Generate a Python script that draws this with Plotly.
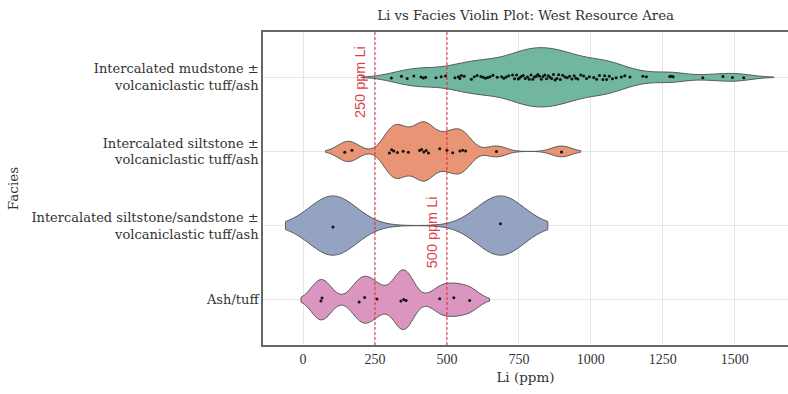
import numpy as np
import plotly.graph_objects as go

categories = [
    "Intercalated mudstone ±<br>volcaniclastic tuff/ash",
    "Intercalated siltstone ±<br>volcaniclastic tuff/ash",
    "Intercalated siltstone/sandstone ±<br>volcaniclastic tuff/ash",
    "Ash/tuff",
]

mudstone = [307, 342, 362, 385, 410, 418, 426, 462, 480, 495, 528, 540, 545,
            550, 560, 585, 595, 605, 618, 626, 634, 642, 650, 660, 675, 690, 698,
            706, 715, 728, 735, 742, 748, 752, 758, 765, 772, 780, 786, 792, 798,
            804, 810, 816, 822, 828, 834, 840, 846, 852, 858, 864, 870, 876, 882,
            888, 894, 902, 910, 918, 926, 934, 942, 948, 955, 965, 975, 985, 995,
            1010, 1020, 1030, 1042, 1048, 1055, 1064, 1075, 1088, 1106, 1118, 1136,
            1181, 1193, 1274, 1280, 1286, 1389, 1459, 1492, 1531]
siltstone = [145, 170, 300, 308, 315, 328, 348, 366, 405, 412, 420, 428, 436, 475,
             500, 520, 545, 555, 565, 672, 898]
sandstone = [104, 686]
ash_tuff = [62, 66, 195, 214, 257, 340, 350, 358, 475, 524, 579]

series = [mudstone, siltstone, sandstone, ash_tuff]
colors = ["#71b6a1", "#e99575", "#95a3c3", "#db96c0"]

thresholds = [250, 500]
threshold_labels = ["250 ppm Li", "500 ppm Li"]
label_ypos = [0.84, 0.36]

x_ticks = [0, 250, 500, 750, 1000, 1250, 1500]

serif = "DejaVu Serif"
text_color = "#333333"

fig = go.Figure()
for cat, vals, col in zip(categories, series, colors):
    bw = 0.2 * float(np.std(vals, ddof=1))
    fig.add_trace(go.Violin(
        x=vals, y=[cat] * len(vals), name=cat, orientation="h",
        fillcolor=col, line=dict(color="#5a5a5a", width=1), opacity=1,
        bandwidth=bw, spanmode="soft", scalemode="width", width=0.8,
        points="all", pointpos=0, jitter=0.1,
        marker=dict(color="#111111", size=3, line=dict(width=0)),
        box_visible=False, meanline_visible=False, showlegend=False,
        hoveron="points",
    ))

for t, lab, yp in zip(thresholds, threshold_labels, label_ypos):
    fig.add_shape(type="line", xref="x", yref="paper", x0=t, x1=t, y0=0, y1=1,
                  line=dict(color="rgba(225,40,50,0.85)", width=1.2, dash="3px,2px"),
                  layer="above")
    fig.add_annotation(x=t, y=yp, xref="x", yref="paper", text=lab, textangle=-90,
                       showarrow=False, xanchor="right", yanchor="middle", xshift=-5,
                       font=dict(family="Liberation Sans", size=14.5, color="rgba(215,40,50,0.9)"))

fig.update_layout(
    width=788, height=394,
    margin=dict(l=263, r=0, t=32, b=49),
    paper_bgcolor="white", plot_bgcolor="white",
    violinmode="overlay",
    title=dict(text="Li vs Facies Violin Plot: West Resource Area", x=0.667, xanchor="center",
               y=0.962, yanchor="middle", font=dict(family=serif, size=13.3, color=text_color)),
    font=dict(family=serif, size=13, color=text_color),
)
fig.update_xaxes(
    range=[-139, 1685], tickvals=x_ticks, ticktext=[str(v) for v in x_ticks],
    showgrid=True, gridcolor="#e6e6e6", gridwidth=1, zeroline=False,
    showline=True, linecolor="#666666", linewidth=1.5, mirror=True,
    ticks="", title=dict(text="Li (ppm)", font=dict(family=serif, size=13.5, color=text_color), standoff=7),
    tickfont=dict(family="Liberation Serif", size=14, color=text_color),
)
fig.update_yaxes(
    type="category", categoryorder="array", categoryarray=categories,
    autorange="reversed",
    showgrid=True, gridcolor="#e6e6e6", gridwidth=1, zeroline=False,
    showline=True, linecolor="#666666", linewidth=1.5, mirror=False,
    ticks="", title=dict(text="Facies", font=dict(family=serif, size=13.5, color=text_color), standoff=10),
    tickfont=dict(family=serif, size=13, color=text_color),
)

fig.write_html("out.html")
